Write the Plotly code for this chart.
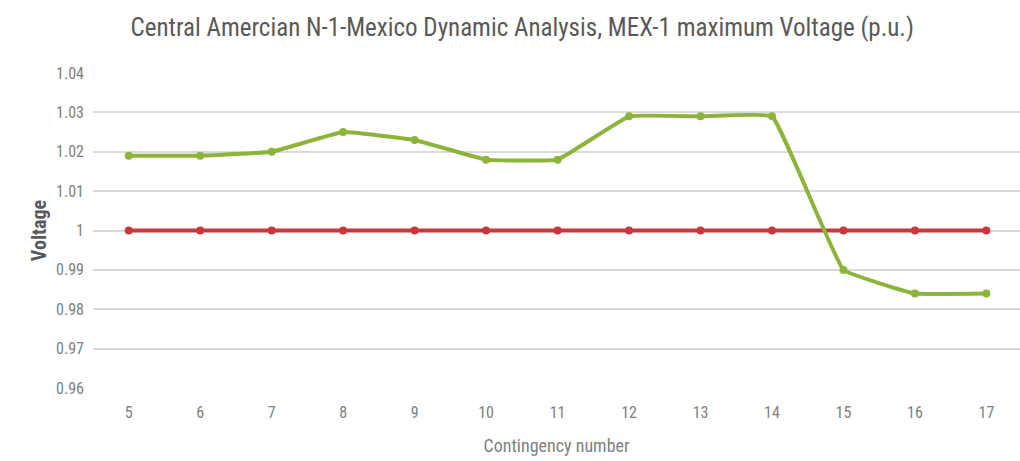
import plotly.graph_objects as go

contingency = [5, 6, 7, 8, 9, 10, 11, 12, 13, 14, 15, 16, 17]
max_voltage = [1.019, 1.019, 1.020, 1.025, 1.023, 1.018, 1.018,
               1.029, 1.029, 1.029, 0.990, 0.984, 0.984]
reference_voltage = [1.0] * len(contingency)
y_ticks = [0.96, 0.97, 0.98, 0.99, 1.0, 1.01, 1.02, 1.03, 1.04]
y_tick_text = ["0.96", "0.97", "0.98", "0.99", "1", "1.01", "1.02", "1.03", "1.04"]

GREEN = "#8db43a"
RED = "#c8383b"
FONT = "Roboto Condensed, Liberation Sans Narrow, Roboto, sans-serif"

fig = go.Figure()
fig.add_trace(go.Scatter(
    x=contingency, y=reference_voltage, mode="lines+markers",
    line=dict(color=RED, width=4),
    marker=dict(color=RED, size=8, symbol="circle"),
    showlegend=False,
))
fig.add_trace(go.Scatter(
    x=contingency, y=max_voltage, mode="lines+markers",
    line=dict(color=GREEN, width=4, shape="spline", smoothing=0.25),
    marker=dict(color=GREEN, size=8, symbol="circle"),
    showlegend=False,
))

fig.update_layout(
    width=1020, height=461,
    margin=dict(l=93, r=0, t=73, b=73),
    paper_bgcolor="white", plot_bgcolor="white",
    title=dict(
        text="Central Amercian N-1-Mexico Dynamic Analysis, MEX-1 maximum Voltage (p.u.)",
        x=0.512, xanchor="center", y=0.94, yanchor="middle",
        font=dict(family=FONT, size=25, color="#595959"),
    ),
    xaxis=dict(
        range=[4.5, 17.47], tickmode="array", tickvals=contingency,
        ticktext=[str(c) for c in contingency],
        showgrid=False, zeroline=False,
        showline=False,
        tickfont=dict(family=FONT, size=16, color="#808080"),
        ticks="", ticklabelstandoff=13,
        title=dict(text="Contingency number", standoff=18,
                   font=dict(family=FONT, size=18, color="#7f7f7f")),
    ),
    yaxis=dict(
        range=[0.96, 1.04], tickmode="array", tickvals=y_ticks, ticktext=y_tick_text,
        showgrid=True, gridcolor="#d9d9d9", gridwidth=1.5, zeroline=False,
        showline=False,
        tickfont=dict(family=FONT, size=16, color="#808080"),
        ticks="", ticklabelstandoff=8,
        title=dict(text="<b>Voltage</b>", standoff=4,
                   font=dict(family=FONT, size=20, color="#595959")),
    ),
)

fig.write_html("out.html")
